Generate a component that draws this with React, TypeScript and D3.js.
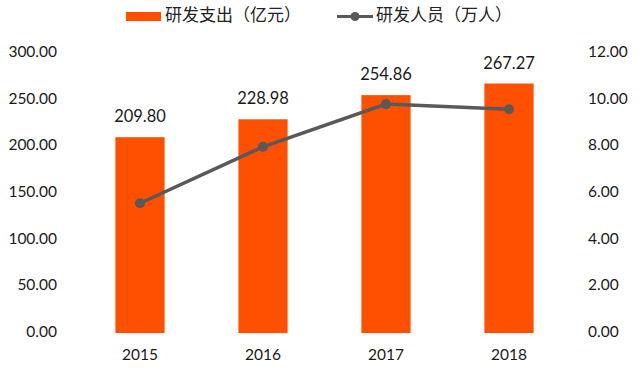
import React from "react";
import * as d3 from "d3";

const years = ["2015", "2016", "2017", "2018"];
const spending = [209.8, 228.98, 254.86, 267.27];
const staff = [5.56, 7.98, 9.81, 9.59];
const leftTicks = [0, 50, 100, 150, 200, 250, 300];
const rightTicks = [0, 2, 4, 6, 8, 10, 12];
const legendBar = "研发支出（亿元）";
const legendLine = "研发人员（万人）";

const W = 640;
const H = 375;
const top = 53;
const bottom = 333;
const left = 78.5;
const right = 570.5;
const ORANGE = "#FF5000";
const GREY = "#595959";
const FONT = "Lato, 'Noto Sans CJK SC', sans-serif";

export default function App() {
  const x = d3.scaleBand<string>().domain(years).range([left, right]).paddingInner(0.6).paddingOuter(0.3);
  const yL = d3.scaleLinear().domain([0, 300]).range([bottom, top]);
  const yR = d3.scaleLinear().domain([0, 12]).range([bottom, top]);
  const cx = (y: string) => (x(y) as number) + x.bandwidth() / 2;
  const line = d3
    .line<number>()
    .x((_, i) => cx(years[i]))
    .y((d) => yR(d));
  const fmt = d3.format(".2f");

  return (
    <svg
      width={W}
      height={H}
      style={{ position: "absolute", left: 0, top: 0, background: "#fff" }}
      fontFamily={FONT}
    >
      {/* legend */}
      <rect x={126} y={12} width={35} height={9} fill={ORANGE} />
      <text x={165} y={16.5} fontSize={17} fill="#222" dominantBaseline="middle" fontFamily="'Noto Sans CJK SC', sans-serif">
        {legendBar}
      </text>
      <line x1={337} x2={373} y1={16.5} y2={16.5} stroke={GREY} strokeWidth={3} />
      <circle cx={355} cy={16.5} r={4.5} fill={GREY} />
      <text x={376} y={16.5} fontSize={17} fill="#222" dominantBaseline="middle" fontFamily="'Noto Sans CJK SC', sans-serif">
        {legendLine}
      </text>

      {/* left axis */}
      {leftTicks.map((t) => (
        <text key={"l" + t} x={57} y={yL(t)} fontSize={15.5} fill="#1a1a1a" textAnchor="end" dominantBaseline="middle">
          {fmt(t)}
        </text>
      ))}
      {/* right axis */}
      {rightTicks.map((t) => (
        <text key={"r" + t} x={588} y={yR(t)} fontSize={15.5} fill="#1a1a1a" textAnchor="start" dominantBaseline="middle">
          {fmt(t)}
        </text>
      ))}

      {/* bars */}
      {years.map((yr, i) => (
        <g key={yr}>
          <rect x={x(yr)} y={yL(spending[i])} width={x.bandwidth()} height={bottom - yL(spending[i])} fill={ORANGE} />
          <text x={cx(yr)} y={yL(spending[i]) - 19} fontSize={16.5} fill="#1a1a1a" textAnchor="middle" dominantBaseline="middle">
            {fmt(spending[i])}
          </text>
          <text x={cx(yr)} y={356} fontSize={15.5} fill="#1a1a1a" textAnchor="middle" dominantBaseline="middle">
            {yr}
          </text>
        </g>
      ))}

      {/* line */}
      <path d={line(staff) as string} fill="none" stroke={GREY} strokeWidth={3.5} />
      {staff.map((v, i) => (
        <circle key={i} cx={cx(years[i])} cy={yR(v)} r={5} fill={GREY} />
      ))}
    </svg>
  );
}
